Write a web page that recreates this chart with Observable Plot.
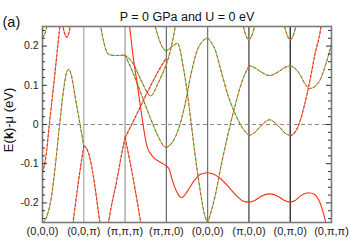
<!DOCTYPE html>
<html><head><meta charset="utf-8">
<script src="https://cdn.jsdelivr.net/npm/d3@7"></script>
<script src="https://cdn.jsdelivr.net/npm/@observablehq/plot@0.6"></script>
<style>body{margin:0;background:#fff}svg{display:block}</style>
</head><body><div id="chart"></div>
<script>
// ---- data ----
const kLabels = ["(0,0,0)","(0,0,π)","(π,π,π)","(π,π,0)","(0,0,0)","(π,0,0)","(0,π,0)","(0,π,π)"];
const kPos = [0,1,2,3,4,5,6,7];
const kInner = [1,2,3,4,5,6];
const yMajor = [-0.2,-0.1,0,0.1,0.2];
const yMinor = [-0.24,-0.22,-0.18,-0.16,-0.14,-0.12,-0.08,-0.06,-0.04,-0.02,0.02,0.04,0.06,0.08,0.12,0.14,0.16,0.18,0.22,0.24];
const title = "P = 0 GPa and U = 0 eV";
const panel = "(a)";

// bands: [k, E(eV)]
const m1 = [[0,0.221],[0.06,0.232],[0.13,0.262]];
const m2 = [[0,-0.123],[0.085,-0.08],[0.165,0],[0.285,0.115],[0.36,0.19],[0.42,0.25],[0.45,0.28]];
const m3 = [[0.47,0.27],[0.52,0.238],[0.59,0.223],[0.65,0.238],[0.69,0.27]];
const m4 = [[0,-0.252],[0.1,-0.236],[0.2,-0.195],[0.3,-0.115],[0.4,-0.015],[0.5,0.08],[0.57,0.127],[0.633,0.141],[0.7,0.125],[0.8,0.065],[0.91,0],[1,-0.055]];
const m5 = [[0.72,-0.265],[0.74,-0.25],[0.85,-0.161],[1,-0.055]];
const m6 = [[1,-0.055],[1.05,-0.059],[1.13,-0.078],[1.25,-0.144],[1.39,-0.25],[1.42,-0.27]];
const m7a = [[1.38,0.27],[1.41,0.25],[1.49,0.208],[1.57,0.182],[1.65,0.177],[1.8,0.176],[2,0.177]];
const lam1 = [[1.58,-0.265],[1.6,-0.25],[1.8,-0.142],[1.95,-0.058],[2,-0.034]];
const lam2 = [[2,-0.034],[2.1,-0.085],[2.2,-0.14],[2.38,-0.25],[2.4,-0.262]];
const m7b = [[2,0.177],[2.2,0.155],[2.4,0.11],[2.62,0.073],[2.8,0.105],[3,0.153]];
const m7c = [[3,0.153],[3.1,0.19],[3.2,0.24],[3.23,0.26]];
const m10 = [[2,0.177],[2.2,0.13],[2.4,0.075],[2.6,0.02],[2.8,-0.03],[2.92,-0.053],[3,-0.059]];
const r1 = [[2,-0.034],[2.3,0.03],[2.6,0.095],[2.8,0.135],[3,0.17]];
const m8a = [[2.7,0.262],[2.8,0.225],[2.9,0.198],[3,0.187]];
const m8b = [[3,0.187],[3.12,0.197],[3.27,0.207],[3.42,0.14],[3.52,0.072],[3.6,0.004],[3.7,-0.08],[3.8,-0.155],[3.92,-0.228],[4,-0.252]];
const m9 = [[3,-0.059],[3.15,-0.045],[3.3,-0.01],[3.45,0.05],[3.6,0.13],[3.75,0.19],[3.9,0.215],[4,0.221]];
const mA = [[4,0.221],[4.18,0.191],[4.34,0.131],[4.5,0.072],[4.66,0.029],[4.82,-0.005],[5,-0.028]];
const mB = [[4,-0.252],[4.18,-0.183],[4.34,-0.098],[4.5,-0.022],[4.66,0.046],[4.82,0.106],[5,0.150]];
const u5 = [[4.84,0.262],[4.9,0.236],[5,0.216],[5.1,0.236],[5.16,0.262]];
const u6 = [[5.84,0.262],[5.9,0.236],[6,0.216],[6.1,0.236],[6.16,0.262]];
const w1 = [[5,0.150],[5.1,0.147],[5.25,0.137],[5.5,0.125],[5.75,0.137],[5.9,0.147],[6,0.150]];
const w2 = [[5,-0.028],[5.1,-0.024],[5.25,-0.008],[5.5,0.012],[5.75,-0.008],[5.9,-0.024],[6,-0.028]];
const w1b = [[6,0.150],[6.12,0.143],[6.25,0.125],[6.35,0.105],[6.47,0.092],[6.6,0.097],[6.73,0.115],[6.85,0.15],[7,0.205]];
const w2b = [[6,-0.028],[6.08,-0.024],[6.17,-0.01],[6.33,0.043],[6.49,0.119],[6.6,0.18],[6.73,0.239],[6.76,0.26]];
const redBand = [[2.1,0.26],[2.2,0.17],[2.3,0.1],[2.4,0.025],[2.46,-0.017],[2.54,-0.059],[2.7,-0.085],[2.87,-0.097],[3,-0.106],[3.07,-0.114],[3.15,-0.144],[3.31,-0.182],[3.37,-0.187],[3.51,-0.17],[3.67,-0.144],[3.83,-0.127],[4,-0.123],[4.15,-0.127],[4.3,-0.137],[4.5,-0.158],[4.7,-0.182],[4.85,-0.195],[5,-0.198],[5.15,-0.193],[5.3,-0.183],[5.5,-0.177],[5.7,-0.183],[5.85,-0.193],[6,-0.198],[6.12,-0.194],[6.25,-0.182],[6.45,-0.174],[6.58,-0.178],[6.68,-0.19],[6.77,-0.214],[6.86,-0.25],[6.9,-0.27]];

const greenMix = [m1,m4,m7a,m7b,m7c,m10,m8a,m8b,m9,mA,mB,u5,u6,w1,w2,w1b];
const redMix = [m2,m3,m5,m6,lam1,lam2,r1,w2b];
const pureRed = [redBand];

// ---- styles ----
const ruleColors = ["#a8a8a8","#9a9a9a","#6a6a6a","#707070","#3a3a3a","#111111"];
const font = "'Liberation Sans', Arial, sans-serif";

const flat = (list) => list.flatMap((b, i) => b.map(([k, e]) => ({k, e, id: i})));
const gm = flat(greenMix), rm = flat(redMix), pr = flat(pureRed);
const lineOpts = {x: "k", y: "e", z: "id", curve: "monotone-x", clip: true};
const FW = 349 - 42 - 18;

const plot = Plot.plot({
  width: 349, height: 244,
  marginLeft: 42, marginRight: 18, marginTop: 26, marginBottom: 22,
  x: {domain: [0, 7], axis: null},
  y: {domain: [-0.25, 0.25], axis: null},
  style: {fontFamily: font, background: "#fff", overflow: "visible"},
  marks: [
    ...kInner.map((k, i) => Plot.ruleX([k], {stroke: ruleColors[i], strokeWidth: 1.2})),
    Plot.ruleY([0], {stroke: "#8a8a8a", strokeWidth: 1.2, strokeDasharray: "4,3"}),
    Plot.line(gm, {...lineOpts, stroke: "#80da62", strokeWidth: 1.1}),
    Plot.line(gm, {...lineOpts, stroke: "#d04822", strokeWidth: 1, strokeDasharray: "2.5,2.5"}),
    Plot.line(rm, {...lineOpts, stroke: "#f7a58a", strokeWidth: 1.1}),
    Plot.line(rm, {...lineOpts, stroke: "#e0361a", strokeWidth: 1.1, strokeDasharray: "2.5,2"}),
    Plot.line(pr, {...lineOpts, stroke: "#ff2a14", strokeWidth: 1.1}),
    Plot.frame({stroke: "#7a7a7a", strokeWidth: 1.6}),
    Plot.tickY(yMajor, {y: d => d, insetRight: FW - 5, stroke: "#333"}),
    Plot.tickY(yMinor, {y: d => d, insetRight: FW - 3, stroke: "#333"}),
    Plot.tickY(yMajor, {y: d => d, insetLeft: FW - 5, stroke: "#333"}),
    Plot.tickY(yMinor, {y: d => d, insetLeft: FW - 3, stroke: "#333"}),
    Plot.axisY(yMajor, {label: null, tickSize: 0, tickPadding: 4, fontSize: 10.5, tickFormat: d => d === 0 ? "0" : String(d), color: "#222"}),
    Plot.axisX(kPos, {label: null, tickSize: 0, tickPadding: 5, fontSize: 11, tickFormat: i => kLabels[i], color: "#222"}),
    Plot.text([title], {frameAnchor: "top", dy: -14, fontSize: 12.5, fill: "#111"}),
    Plot.text([panel], {frameAnchor: "top-left", dx: -40, dy: -10, textAnchor: "start", fontSize: 14.5, fill: "#111"})
  ]
});
document.getElementById("chart").appendChild(plot);

const t = d3.select(plot).append("text")
  .attr("transform", "translate(12.5,120) rotate(-90)")
  .attr("text-anchor", "middle")
  .attr("font-size", 13)
  .attr("font-family", font)
  .attr("fill", "#111");
t.append("tspan").text("E(");
t.append("tspan").attr("font-weight", "bold").text("k");
t.append("tspan").text(")-μ (eV)");
</script>
</body></html>
